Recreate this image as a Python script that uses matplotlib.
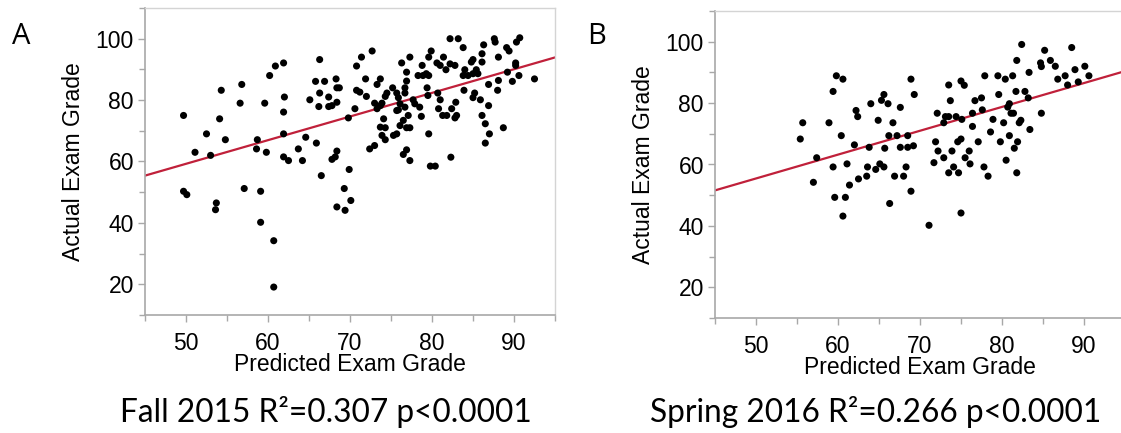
import numpy as np
import matplotlib.pyplot as plt
from matplotlib.ticker import MultipleLocator

# values
fall_pred = [49.7, 51.1, 52.5, 53.0, 54.3, 54.1, 54.8, 56.8, 56.6, 58.7, 58.6, 59.8, 59.6, 60.2, 60.9, 61.9, 62.0, 61.9, 61.9, 63.7,
             64.6, 65.1, 65.9, 65.8, 66.9, 66.3, 66.3, 66.2, 67.4, 67.4, 67.8, 68.3, 68.4, 68.7, 68.4, 69.8, 70.8, 71.4, 72.7, 71.9,
             70.8, 71.2, 72.0, 70.6, 73.3, 73.7, 73.0, 73.7, 74.3, 74.5, 73.9, 73.3, 74.1, 73.7, 74.3, 73.9, 74.3, 72.4, 73.0, 75.2,
             75.7, 75.9, 75.3, 75.7, 75.9, 76.1, 76.5, 76.3, 76.9, 77.3, 76.9, 76.7, 76.7, 76.1, 75.7, 76.7, 77.1, 76.9, 77.3, 76.9,
             76.5, 77.7, 77.9, 78.5, 78.3, 78.8, 78.9, 79.3, 79.6, 79.4, 79.5, 78.7, 79.6, 79.6, 79.9, 80.6, 80.7, 80.8, 81.0, 81.3,
             81.8, 81.0, 81.4, 81.7, 82.2, 82.8, 82.2, 83.2, 82.4, 82.9, 82.8, 83.0, 82.3, 83.8, 83.8, 84.0, 83.9, 84.4, 84.8, 85.0,
             85.0, 85.2, 85.4, 85.6, 85.9, 86.1, 86.3, 86.1, 86.9, 86.1, 86.5, 87.0, 86.5, 87.6, 87.7, 86.9, 88.1, 88.1, 88.0, 88.7,
             89.1, 89.4, 89.2, 89.8, 90.2, 90.2, 90.3, 90.7, 90.6, 92.5, 85.0, 68.4, 61.9, 62.5, 64.2, 67.8, 68.2, 77.3, 79.8, 80.4,
             49.7, 50.1, 53.7, 53.6, 57.1, 59.1, 59.1, 60.7, 60.7, 66.5, 69.3, 69.9, 70.1, 68.4, 69.4]
fall_actual = [75.0, 63.0, 69.0, 62.0, 83.2, 73.9, 67.1, 85.1, 79.0, 67.1, 64.1, 63.0, 79.0, 88.0, 91.1, 92.1, 81.0, 76.1, 69.0, 64.1,
               67.9, 80.1, 66.0, 86.1, 86.1, 93.2, 82.3, 77.9, 81.0, 77.9, 78.2, 86.9, 84.0, 84.0, 79.3, 74.2, 91.1, 94.0, 96.0, 86.9,
               83.2, 82.6, 81.2, 77.2, 85.1, 86.9, 79.0, 78.2, 81.2, 82.3, 79.0, 77.2, 73.9, 71.2, 71.0, 68.5, 67.1, 64.1, 65.2, 84.0,
               82.3, 80.8, 68.5, 69.0, 76.8, 71.7, 73.4, 92.1, 89.1, 94.0, 86.2, 84.0, 82.3, 78.8, 76.6, 77.7, 75.0, 71.0, 71.0, 63.8,
               62.3, 80.1, 78.8, 77.7, 88.0, 91.3, 88.0, 88.6, 88.0, 84.0, 81.5, 74.7, 69.0, 94.0, 96.0, 92.1, 82.3, 77.2, 80.1, 75.0,
               75.0, 91.3, 94.0, 89.9, 91.8, 91.3, 100.0, 100.0, 77.2, 79.3, 74.2, 75.0, 61.4, 97.1, 88.0, 89.9, 83.2, 88.0, 92.4, 93.2,
               80.8, 82.3, 89.9, 88.6, 80.1, 95.1, 98.0, 92.4, 78.2, 75.0, 72.3, 69.0, 66.0, 100.0, 98.9, 85.1, 94.0, 86.4, 83.2, 71.0,
               97.1, 96.0, 89.1, 86.1, 92.1, 91.3, 98.9, 100.3, 88.0, 86.9, 88.6, 63.4, 61.5, 60.3, 60.3, 60.7, 61.5, 60.3, 58.5, 58.5,
               50.3, 49.2, 46.5, 44.3, 51.2, 50.3, 40.2, 34.2, 19.1, 55.4, 51.2, 57.4, 47.3, 45.2, 44.1]

spring_pred = [55.4, 55.7, 57.4, 58.9, 59.4, 59.8, 60.6, 60.4, 62.2, 62.4, 62.0, 64.0, 63.8, 64.9, 65.3, 65.6, 66.1, 66.7, 66.2, 65.7,
               67.2, 67.6, 67.6, 68.5, 68.5, 68.9, 69.3, 69.2, 71.7, 71.9, 72.1, 72.2, 72.9, 72.9, 73.1, 73.5, 73.7, 73.9, 73.5, 74.4,
               74.6, 75.0, 75.0, 75.4, 75.1, 75.5, 76.0, 76.4, 76.4, 76.7, 77.1, 77.5, 77.6, 77.9, 78.6, 78.9, 79.5, 79.6, 79.8, 80.2,
               80.4, 80.5, 80.7, 80.9, 80.9, 81.1, 81.3, 81.4, 81.5, 81.7, 81.8, 81.9, 82.1, 82.3, 82.4, 82.8, 83.2, 83.3, 83.4, 84.7,
               84.8, 84.8, 85.2, 85.9, 86.5, 86.8, 87.7, 88.0, 88.5, 88.9, 89.3, 90.1, 90.6, 57.0, 59.4, 59.6, 60.6, 60.9, 61.1, 61.4,
               62.5, 63.5, 63.6, 64.6, 65.1, 65.6, 66.3, 66.9, 68.0, 68.3, 68.9, 71.1, 73.5, 74.1, 74.7, 75.0, 76.1, 77.8, 78.3, 81.8]
spring_actual = [68.3, 73.6, 62.2, 73.6, 83.8, 88.9, 87.8, 69.4, 77.6, 75.6, 66.4, 79.8, 65.6, 74.4, 80.9, 82.8, 79.8, 73.6, 69.4, 65.3,
                 69.4, 78.6, 65.6, 65.6, 69.4, 87.8, 82.8, 66.1, 60.6, 67.4, 76.7, 64.4, 62.2, 73.6, 75.6, 85.9, 80.8, 64.4, 75.6, 75.6,
                 67.4, 68.3, 87.2, 85.8, 74.7, 62.2, 64.4, 72.4, 76.7, 80.8, 67.4, 81.7, 77.8, 88.9, 70.6, 74.7, 88.9, 82.8, 67.4, 73.6,
                 87.8, 61.4, 78.7, 79.8, 69.4, 76.7, 88.9, 76.7, 65.3, 83.8, 93.9, 67.4, 73.6, 74.4, 99.1, 83.8, 81.7, 90.0, 71.4, 93.1,
                 91.9, 76.7, 97.2, 93.9, 92.0, 87.8, 88.9, 85.9, 98.1, 90.9, 86.9, 92.0, 88.9, 54.2, 59.2, 49.3, 43.2, 49.3, 60.2, 53.3,
                 55.3, 56.2, 59.2, 58.4, 60.2, 59.2, 47.3, 56.2, 56.2, 59.2, 51.3, 40.2, 57.3, 59.2, 57.3, 44.2, 60.2, 59.2, 56.2, 57.3]

# fitted lines (slope, intercept) as drawn
fall_fit = (0.77, 20.75)
spring_fit = (0.777, 16.6)

panel_letters = ['A', 'B']
captions = ['Fall 2015 R\u00b2=0.307 p<0.0001', 'Spring 2016 R\u00b2=0.266 p<0.0001']

W, H = 1121, 433
fig = plt.figure(figsize=(W/100, H/100), dpi=100)

# axes boxes in pixels (left, top, right, bottom); panel B runs off the right edge like the original
boxes = [(145, 8, 555, 315), (715, 11, 1125, 318)]
data = [(fall_pred, fall_actual, fall_fit), (spring_pred, spring_actual, spring_fit)]

tickfont = 'Liberation Sans'
for i, (box, (xp, ya, fit)) in enumerate(zip(boxes, data)):
    l, t, r, b = box
    ax = fig.add_axes([l/W, 1-b/H, (r-l)/W, (b-t)/H])
    ax.set_xlim(45, 95)
    ax.set_ylim(10, 110)
    xs = np.array([45, 95])
    ax.plot(xs, fit[0]*xs + fit[1], color='#c0203a', lw=1.6, zorder=2)
    ax.scatter(xp, ya, s=26, color='black', edgecolors='none', zorder=3)

    ax.xaxis.set_minor_locator(MultipleLocator(5))
    ax.yaxis.set_minor_locator(MultipleLocator(10))
    ax.set_xticks([50, 60, 70, 80, 90])
    ax.set_yticks([20, 40, 60, 80, 100])
    for s in ['left', 'bottom']:
        ax.spines[s].set_color('#a8a8a8')
        ax.spines[s].set_linewidth(1.2)
    for s in ['top', 'right']:
        ax.spines[s].set_color('#d4d4d4')
        ax.spines[s].set_linewidth(1.0)
    ax.tick_params(which='both', direction='out', color='#a8a8a8', width=1.0)
    ax.tick_params(which='major', length=5)
    ax.tick_params(which='minor', length=4)
    ax.tick_params(axis='x', which='major', pad=7, labelsize=16.5)
    ax.tick_params(axis='y', which='major', pad=3, labelsize=16.5)
    for lab in ax.get_xticklabels() + ax.get_yticklabels():
        lab.set_fontfamily(tickfont)
    ax.set_xlabel('Predicted Exam Grade', fontsize=16.5, family=tickfont, labelpad=-1)
    ax.set_ylabel('Actual Exam Grade', fontsize=16.5, family=tickfont, labelpad=8)

    # panel letter and caption
    fig.text([12, 587][i]/W, 1-36/H, panel_letters[i], fontsize=21, family='Open Sans', va='center', ha='left')
    fig.text([326, 876][i]/W, 1-422/H, captions[i], fontsize=22.8, family='Lato', va='baseline', ha='center')

fig.savefig('out.png', dpi=100)
